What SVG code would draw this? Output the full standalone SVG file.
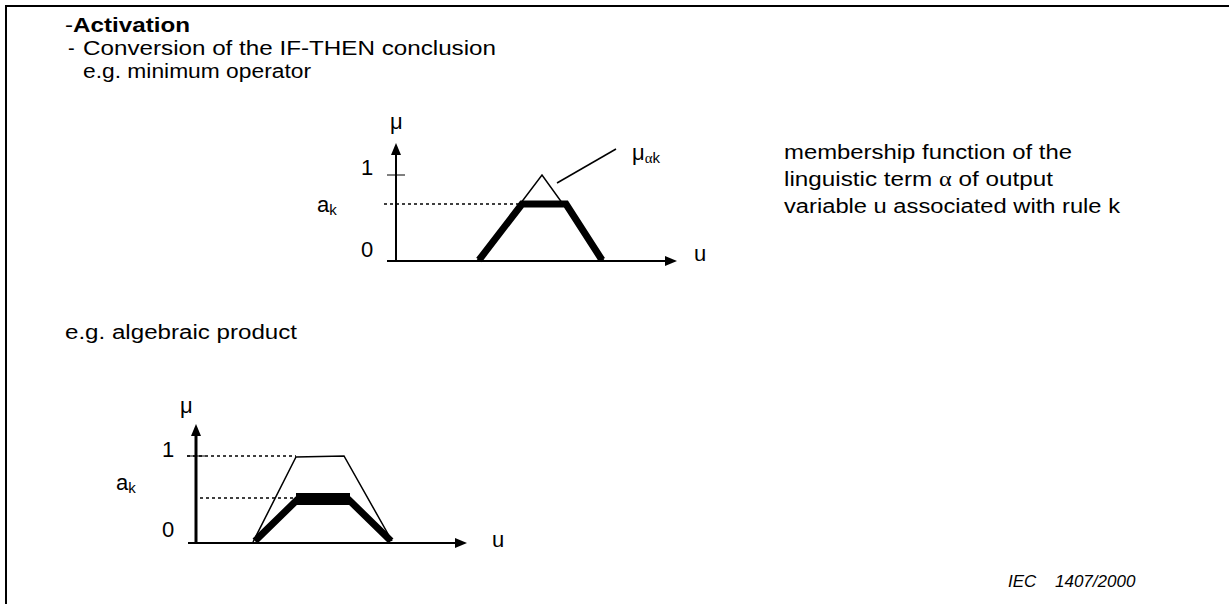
<svg xmlns="http://www.w3.org/2000/svg" width="1229" height="604" viewBox="0 0 1229 604">
<style>
text{font-family:"Liberation Sans",Arial,sans-serif;fill:#000}
.t{font-size:20px}
.l{font-size:22px}
.s{font-size:15px}
.g{font-family:"Liberation Serif","Times New Roman",serif}
.ax{stroke:#000;stroke-width:2;fill:none}
.thin{stroke:#000;stroke-width:1.5;fill:none}
.thick{stroke:#000;stroke-width:7;fill:none;stroke-linejoin:miter}
.dash{stroke:#000;stroke-width:1.5;stroke-dasharray:3 3;fill:none}
</style>
<rect width="1229" height="604" fill="#fff"/>
<g id="frame">
<line x1="5" y1="6" x2="1229" y2="6" stroke="#000" stroke-width="2"/>
<line x1="6" y1="5" x2="6" y2="604" stroke="#000" stroke-width="2"/>
</g>
<g id="heading">
<text x="65" y="32" class="t" textLength="125" lengthAdjust="spacingAndGlyphs">-<tspan font-weight="bold">Activation</tspan></text>
<text x="68" y="55" class="t">-</text>
<text x="83" y="55" class="t" textLength="413" lengthAdjust="spacingAndGlyphs">Conversion of the IF-THEN conclusion</text>
<text x="83" y="78" class="t" textLength="228" lengthAdjust="spacingAndGlyphs">e.g. minimum operator</text>
</g>
<g id="chart1">
<line class="ax" x1="396" y1="261" x2="396" y2="153"/>
<polygon points="396,143 391,155 401,155" fill="#000"/>
<line class="ax" x1="387" y1="261" x2="667" y2="261"/>
<polygon points="677,261 665,256 665,266" fill="#000"/>
<line x1="387" y1="175" x2="405" y2="175" stroke="#000" stroke-width="1"/>
<line class="dash" x1="384" y1="204" x2="521" y2="204"/>
<polyline class="thin" points="477,261 542,175 604,261"/>
<polyline class="thick" points="479,260 522,204 566,204 602,260"/>
<line class="thin" x1="557" y1="183" x2="616" y2="149"/>
<text x="390" y="129" class="l">μ</text>
<text x="361" y="175" class="l">1</text>
<text x="317" y="212" class="l">a<tspan class="s" dy="3">k</tspan></text>
<text x="361" y="257" class="l">0</text>
<text x="694" y="261" class="l">u</text>
<text x="632" y="160" class="l">μ<tspan class="s g" dy="3">α</tspan><tspan class="s">k</tspan></text>
</g>
<g id="chart1-label">
<text x="784" y="159" class="t" textLength="288" lengthAdjust="spacingAndGlyphs">membership function of the</text>
<text x="784" y="186" class="t" textLength="269" lengthAdjust="spacingAndGlyphs">linguistic term <tspan class="g">α</tspan> of output</text>
<text x="784" y="213" class="t" textLength="336" lengthAdjust="spacingAndGlyphs">variable u associated with rule k</text>
</g>
<g id="subheading">
<text x="65" y="339" class="t" textLength="232" lengthAdjust="spacingAndGlyphs">e.g. algebraic product</text>
</g>
<g id="chart2">
<line stroke="#000" stroke-width="3" x1="196" y1="543" x2="196" y2="434"/>
<polygon points="196,424 191,436 201,436" fill="#000"/>
<line class="ax" x1="188" y1="543" x2="457" y2="543"/>
<polygon points="467,543 455,538 455,548" fill="#000"/>
<line x1="187" y1="456" x2="205" y2="456" stroke="#000" stroke-width="1"/>
<line class="dash" x1="187" y1="456" x2="296" y2="456"/>
<line class="dash" x1="200" y1="498" x2="296" y2="498"/>
<polyline class="thin" points="253,542 296,457 344,456 392,541"/>
<polyline class="thick" points="255,541 297,500 349,500 391,541"/>
<rect x="296" y="493" width="54" height="12" fill="#000"/>
<text x="180" y="413" class="l">μ</text>
<text x="162" y="457" class="l">1</text>
<text x="116" y="490" class="l">a<tspan class="s" dy="3">k</tspan></text>
<text x="162" y="537" class="l">0</text>
<text x="492" y="547" class="l">u</text>
</g>
<g id="footer">
<text x="1008" y="587" font-size="17" font-style="italic">IEC</text>
<text x="1055" y="587" font-size="17" font-style="italic">1407/2000</text>
</g>
</svg>
